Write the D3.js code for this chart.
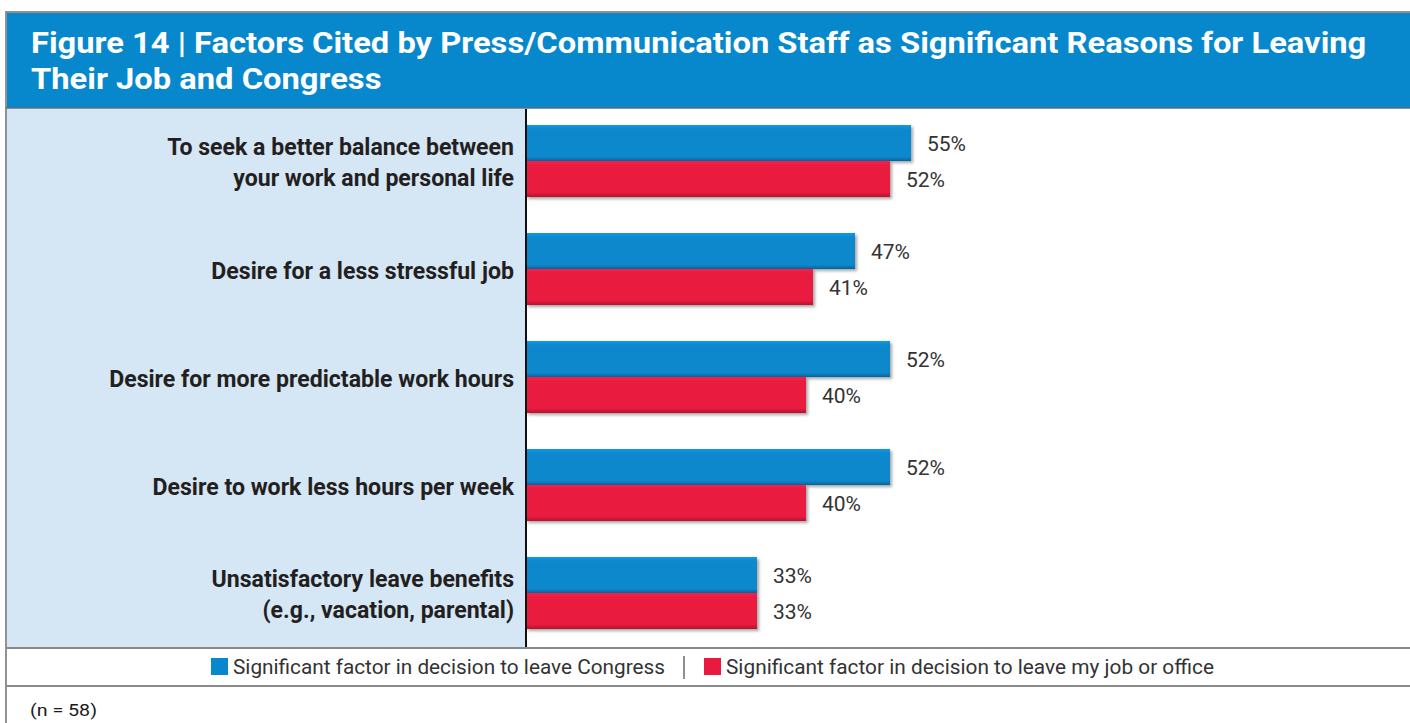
<!DOCTYPE html>
<html>
<head>
<meta charset="utf-8">
<script src="https://cdn.jsdelivr.net/npm/d3@7"></script>
<style>
  html, body { margin: 0; padding: 0; background: #fff; }
  svg { display: block; }
</style>
</head>
<body>
<svg id="chart" width="1410" height="723"></svg>
<script>
// Survey factors and shares (percent)
const categories = [
  ["To seek a better balance between", "your work and personal life"],
  ["Desire for a less stressful job"],
  ["Desire for more predictable work hours"],
  ["Desire to work less hours per week"],
  ["Unsatisfactory leave benefits", "(e.g., vacation, parental)"]
];
const leaveCongress = [55, 47, 52, 52, 33];
const leaveJob = [52, 41, 40, 40, 33];
const seriesNames = [
  "Significant factor in decision to leave Congress",
  "Significant factor in decision to leave my job or office"
];
const seriesColors = ["#0888cc", "#e91a3f"];
const titleLines = [
  "Figure 14 | Factors Cited by Press/Communication Staff as Significant Reasons for Leaving",
  "Their Job and Congress"
];
const note = "(n = 58)";

const svg = d3.select("#chart");
const sans = "Roboto, 'Liberation Sans', sans-serif";

// gradients and shadow for bars
const defs = svg.append("defs");
seriesColors.forEach((c, i) => {
  const g = defs.append("linearGradient").attr("id", "grad" + i)
    .attr("x1", 0).attr("y1", 0).attr("x2", 0).attr("y2", 1);
  const base = d3.color(c);
  g.append("stop").attr("offset", "0%").attr("stop-color", base.brighter(0.35));
  g.append("stop").attr("offset", "12%").attr("stop-color", c);
  g.append("stop").attr("offset", "88%").attr("stop-color", c);
  g.append("stop").attr("offset", "100%").attr("stop-color", base.darker(0.8));
});
const f = defs.append("filter").attr("id", "shadow")
  .attr("x", "-5%").attr("y", "-20%").attr("width", "115%").attr("height", "150%");
f.append("feDropShadow").attr("dx", 2).attr("dy", 2).attr("stdDeviation", 1.5)
  .attr("flood-color", "#000").attr("flood-opacity", 0.35);

// frame
const frameLeft = 6, frameTop = 12;
svg.append("rect").attr("x", frameLeft).attr("y", frameTop)
  .attr("width", 1410 - frameLeft + 2).attr("height", 723 - frameTop + 2)
  .attr("fill", "#fff").attr("stroke", "#6d6d6d").attr("stroke-width", 1.5);

// header band
svg.append("rect").attr("x", frameLeft + 1).attr("y", frameTop + 1)
  .attr("width", 1410).attr("height", 95).attr("fill", "#0888cc");
svg.append("line").attr("x1", frameLeft).attr("x2", 1410)
  .attr("y1", 108).attr("y2", 108).attr("stroke", "#5a6b78").attr("stroke-width", 1.5);

// title, stretched horizontally to the header width
const titleG = svg.append("g");
const titleText = titleG.selectAll("text").data(titleLines).join("text")
  .attr("x", 0).attr("y", (d, i) => 53 + i * 36)
  .attr("fill", "#fff").attr("font-family", sans)
  .attr("font-weight", "bold").attr("font-size", 30)
  .text(d => d);
const titleW = titleText.node().getComputedTextLength();
titleG.attr("transform", `translate(31,0) scale(${1336 / titleW},1)`);

// label panel
const axisX = 526;
const plotTop = 109, plotBottom = 648;
svg.append("rect").attr("x", frameLeft + 1).attr("y", plotTop)
  .attr("width", axisX - frameLeft - 1).attr("height", plotBottom - plotTop)
  .attr("fill", "#d5e6f5");

// scales
const x = d3.scaleLinear().domain([0, 100]).range([axisX, axisX + 700]);
const y = d3.scaleBand().domain(d3.range(categories.length))
  .range([107, 107 + 108 * categories.length]);
const barH = 36;
const seriesData = [leaveCongress, leaveJob];

const groups = svg.append("g").selectAll("g").data(categories).join("g")
  .attr("transform", (d, i) => `translate(0,${y(i) + 18})`);

seriesData.forEach((vals, s) => {
  groups.append("rect")
    .attr("x", axisX).attr("y", s * barH)
    .attr("width", (d, i) => x(vals[i]) - axisX).attr("height", barH)
    .attr("fill", `url(#grad${s})`).attr("filter", "url(#shadow)");
  groups.append("text")
    .attr("x", (d, i) => x(vals[i]) + 16)
    .attr("y", s * barH + barH / 2 + 8)
    .attr("font-family", sans).attr("font-size", 21).attr("fill", "#333")
    .text((d, i) => vals[i] + "%");
});

// category labels, condensed horizontally around their right edge
const labelRight = 514;
const labels = groups.append("g");
const labelText = labels.append("text")
  .attr("text-anchor", "end").attr("font-family", sans)
  .attr("font-weight", "bold").attr("font-size", 24.5).attr("fill", "#231f20")
  .each(function(d) {
    const t = d3.select(this);
    const lh = 31;
    const start = barH - (d.length - 1) * lh / 2 + 9.7;
    d.forEach((line, k) => {
      t.append("tspan").attr("x", 0).attr("y", start + k * lh).text(line);
    });
  });
// widest single-line label spans 405px
const refW = labelText.filter((d, i) => i === 2).node().getComputedTextLength();
labels.attr("transform", `translate(${labelRight},0) scale(${405 / refW},1)`);

// axis line
svg.append("line").attr("x1", axisX).attr("x2", axisX)
  .attr("y1", plotTop).attr("y2", plotBottom)
  .attr("stroke", "#111").attr("stroke-width", 2);

// legend and footer rules
[648, 686].forEach(yy => svg.append("line").attr("x1", frameLeft).attr("x2", 1410)
  .attr("y1", yy).attr("y2", yy).attr("stroke", "#8a8a8a").attr("stroke-width", 2));

const legend = svg.append("g");
const legItems = [{x: 211, tx: 233}, {x: 704, tx: 726}];
legItems.forEach((p, i) => {
  legend.append("rect").attr("x", p.x).attr("y", 658).attr("width", 17).attr("height", 17)
    .attr("fill", seriesColors[i]);
  legend.append("text").attr("x", p.tx).attr("y", 674)
    .attr("font-family", sans).attr("font-size", 21).attr("fill", "#333")
    .attr("textLength", i === 0 ? 432 : 488).attr("lengthAdjust", "spacingAndGlyphs")
    .text(seriesNames[i]);
});
legend.append("line").attr("x1", 684).attr("x2", 684).attr("y1", 656).attr("y2", 679)
  .attr("stroke", "#444").attr("stroke-width", 1.2);

svg.append("text").attr("x", 30).attr("y", 716)
  .attr("font-family", sans).attr("font-size", 17).attr("font-weight", "normal").attr("fill", "#1a1a1a")
  .attr("textLength", 67).attr("lengthAdjust", "spacingAndGlyphs")
  .text(note);
</script>
</body>
</html>
